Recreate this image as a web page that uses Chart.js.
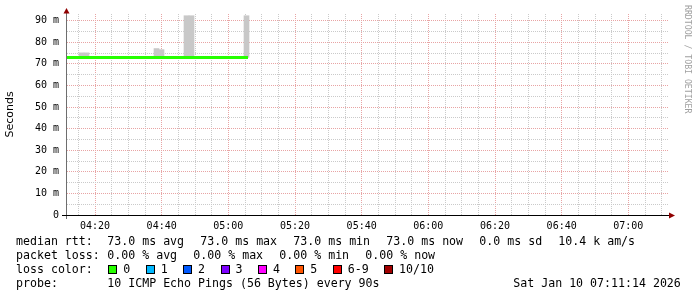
<!DOCTYPE html>
<html>
<head>
<meta charset="utf-8">
<script src="https://cdn.jsdelivr.net/npm/chart.js@4/dist/chart.umd.min.js"></script>
<style>
html, body { margin: 0; padding: 0; background: #fff; }
#wrap { position: relative; width: 697px; height: 297px; overflow: hidden; }
#chart { position: absolute; left: 0; top: 0; }
.t { position: absolute; font-family: "DejaVu Sans Mono", monospace; font-size: 11.6px; line-height: 14px; white-space: pre; color: #000; }
.box { position: absolute; width: 7px; height: 7px; border: 1px solid #000; }
#credit { position: absolute; left: 683px; top: 5px; writing-mode: vertical-rl; font-family: "DejaVu Sans Mono", monospace; font-size: 8.2px; line-height: 10px; color: #a0a0a0; white-space: pre; }
</style>
</head>
<body>
<div id="wrap">
    <canvas id="chart" width="697" height="297"></canvas>
    <div id="credit">RRDTOOL / TOBI OETIKER</div>
</div>
<script>
// sample times, minutes after midnight (one sample every 90 s)
const sampleMinutes = [251.45, 252.95, 254.45, 255.95, 257.45, 258.95, 260.45, 261.95, 263.45, 264.95,
    266.45, 267.95, 269.45, 270.95, 272.45, 273.95, 275.45, 276.95, 278.45, 279.95,
    281.45, 282.95, 284.45, 285.95, 287.45, 288.95, 290.45, 291.95, 293.45, 294.95,
    296.45, 297.95, 299.45, 300.95, 302.45, 303.95, 305.45];

// median rtt in ms
const medianRtt = [73, 73, 73, 73, 73, 73, 73, 73, 73, 73,
    73, 73, 73, 73, 73, 73, 73, 73, 73, 73,
    73, 73, 73, 73, 73, 73, 73, 73, 73, 73,
    73, 73, 73, 73, 73, 73, 73];

// smoke: lowest and highest ping of each sample, ms
const smokeLow = [73, 73, 73, 73, 73, 73, 73, 73, 73, 73,
    73, 73, 73, 73, 73, 73, 73, 73, 73, 73,
    73, 73, 73, 73, 73, 73, 73, 73, 73, 73,
    73, 73, 73, 73, 73, 73, 73];
const smokeHigh = [73, 73, 73, 75.1, 75.1, 73, 73, 73, 73, 73,
    73, 73, 73, 73, 73, 73, 73, 73, 77.1, 76.6,
    73, 73, 73, 73, 92.3, 92.3, 73, 73, 73, 73,
    73, 73, 73, 73, 73, 73, 92.3];

const xTickMinutes = [260, 280, 300, 320, 340, 360, 380, 400, 420];
const xTickLabels = ["04:20", "04:40", "05:00", "05:20", "05:40", "06:00", "06:20", "06:40", "07:00"];
const yTickValues = [0, 10, 20, 30, 40, 50, 60, 70, 80, 90];
const yTickLabels = ["0", "10 m", "20 m", "30 m", "40 m", "50 m", "60 m", "70 m", "80 m", "90 m"];

const rttLegend = ["73.0 ms avg", "73.0 ms max", "73.0 ms min", "73.0 ms now", "0.0 ms sd", "10.4 k am/s"];
const lossLegend = ["0.00 % avg", "0.00 % max", "0.00 % min", "0.00 % now"];
const lossColorLabels = ["0", "1", "2", "3", "4", "5", "6-9", "10/10"];
const lossColors = ["#26ff00", "#00b8ff", "#0059ff", "#7e00ff", "#ff00ff", "#ff5500", "#ff0000", "#a10000"];
const probeText = "10 ICMP Echo Pings (56 Bytes) every 90s";
const stampText = "Sat Jan 10 07:11:14 2026";

const majorGrid = "#e8a4a4";
const minorGrid = "#cacaca";

function onStep(v, step) {
    return Math.abs(v / step - Math.round(v / step)) < 1e-6;
}

function gridColor(ctx, major) {
    if (!ctx.tick) return minorGrid;
    return onStep(ctx.tick.value, major) ? majorGrid : minorGrid;
}

// one tick (grid line) on every multiple of step inside the scale range
function stepTicks(scale, step) {
    const ticks = [];
    for (let v = Math.ceil(scale.min / step) * step; v <= scale.max; v += step) {
        ticks.push({ value: v });
    }
    scale.ticks = ticks;
}

const axesPlugin = {
    id: "rrdAxes",
    afterDatasetsDraw(chart) {
        const { ctx, chartArea: a } = chart;
        ctx.save();
        ctx.lineWidth = 1;
        ctx.strokeStyle = "#6e6e6e";
        ctx.beginPath();
        ctx.moveTo(a.left - 0.5, a.bottom + 4);
        ctx.lineTo(a.left - 0.5, a.top - 2);
        ctx.stroke();
        ctx.strokeStyle = "#000";
        ctx.beginPath();
        ctx.moveTo(a.left - 5, a.bottom + 0.5);
        ctx.lineTo(a.right + 1, a.bottom + 0.5);
        ctx.stroke();
        ctx.fillStyle = "#900000";
        ctx.beginPath();
        ctx.moveTo(a.left - 0.5, a.top - 6);
        ctx.lineTo(a.left - 3.5, a.top - 0.5);
        ctx.lineTo(a.left + 2.5, a.top - 0.5);
        ctx.closePath();
        ctx.fill();
        ctx.beginPath();
        ctx.moveTo(a.right + 6, a.bottom + 0.5);
        ctx.lineTo(a.right, a.bottom - 2.5);
        ctx.lineTo(a.right, a.bottom + 3.5);
        ctx.closePath();
        ctx.fill();
        ctx.restore();
    }
};

new Chart(document.getElementById("chart"), {
    type: "bar",
    data: {
        datasets: [{
            type: "line",
            label: "median rtt",
            data: sampleMinutes.map((t, i) => ({ x: t, y: medianRtt[i] })),
            borderColor: "#26ff00",
            borderWidth: 3,
            borderCapStyle: "square",
            pointRadius: 0,
            stepped: "middle",
            clip: 0,
            order: 0
        }, {
            type: "bar",
            label: "smoke",
            data: sampleMinutes.map((t, i) => ({ x: t, y: [smokeLow[i], smokeHigh[i]] })),
            backgroundColor: "#c8c8c8",
            borderWidth: 0,
            barPercentage: 1,
            categoryPercentage: 1,
            order: 1
        }]
    },
    options: {
        responsive: false,
        animation: false,
        events: [],
        layout: { padding: { top: 13, right: 28, left: 0, bottom: 0 } },
        plugins: {
            legend: { display: false },
            tooltip: { enabled: false }
        },
        scales: {
            x: {
                type: "linear",
                min: 251.6,
                max: 432.2,
                offset: false,
                afterFit: (s) => { s.height = 82; },
                afterBuildTicks: (s) => stepTicks(s, 5),
                ticks: {
                    autoSkip: false,
                    maxRotation: 0,
                    minRotation: 0,
                    padding: 5,
                    color: "#000",
                    font: { family: "DejaVu Sans Mono", size: 10 },
                    callback: (v) => {
                        const i = xTickMinutes.findIndex((m) => Math.abs(m - v) < 1e-6);
                        return i < 0 ? "" : xTickLabels[i];
                    }
                },
                grid: { offset: false, drawTicks: false, color: (ctx) => gridColor(ctx, 20) },
                border: { display: false, dash: [1, 1] }
            },
            y: {
                min: 0,
                max: 93.1,
                afterFit: (s) => { s.width = 67; },
                afterBuildTicks: (s) => stepTicks(s, 5),
                ticks: {
                    autoSkip: false,
                    padding: 8,
                    color: "#000",
                    font: { family: "DejaVu Sans Mono", size: 10 },
                    callback: (v) => {
                        const i = yTickValues.findIndex((m) => Math.abs(m - v) < 1e-6);
                        return i < 0 ? "" : yTickLabels[i];
                    }
                },
                grid: { drawTicks: false, color: (ctx) => gridColor(ctx, 10) },
                border: { display: false, dash: [1, 1] },
                title: {
                    display: true,
                    text: "Seconds",
                    color: "#000",
                    font: { family: "DejaVu Sans", size: 11 },
                    padding: { top: 4, bottom: 0 }
                }
            }
        }
    },
    plugins: [axesPlugin]
});

// legend below the graph, laid out like rrdtool: pieces separated by a fixed gap
const wrap = document.getElementById("wrap");
const charW = 7.0;
const lineTops = [234, 248, 262, 276];

function addText(str, x, top) {
    const d = document.createElement("div");
    d.className = "t";
    d.style.left = x + "px";
    d.style.top = top + "px";
    d.textContent = str;
    wrap.appendChild(d);
}

function addRow(head, pieces, top) {
    addText(head, 16, top);
    let x = 107.3;
    pieces.forEach((p) => {
        addText(p, x, top);
        x += p.length * charW + 16;
    });
}

addRow("median rtt:", rttLegend, lineTops[0]);
addRow("packet loss:", lossLegend, lineTops[1]);

addText("loss color:", 16, lineTops[2]);
let bx = 108.3;
lossColorLabels.forEach((lab, i) => {
    const b = document.createElement("div");
    b.className = "box";
    b.style.left = Math.round(bx) + "px";
    b.style.top = "265px";
    b.style.background = lossColors[i];
    wrap.appendChild(b);
    addText(lab, bx + 15, lineTops[2]);
    bx += 15 + lab.length * charW + 15.4;
});

addText("probe:", 16, lineTops[3]);
addText(probeText, 107.3, lineTops[3]);
addText(stampText, 513.3, lineTops[3]);
</script>
</body>
</html>
